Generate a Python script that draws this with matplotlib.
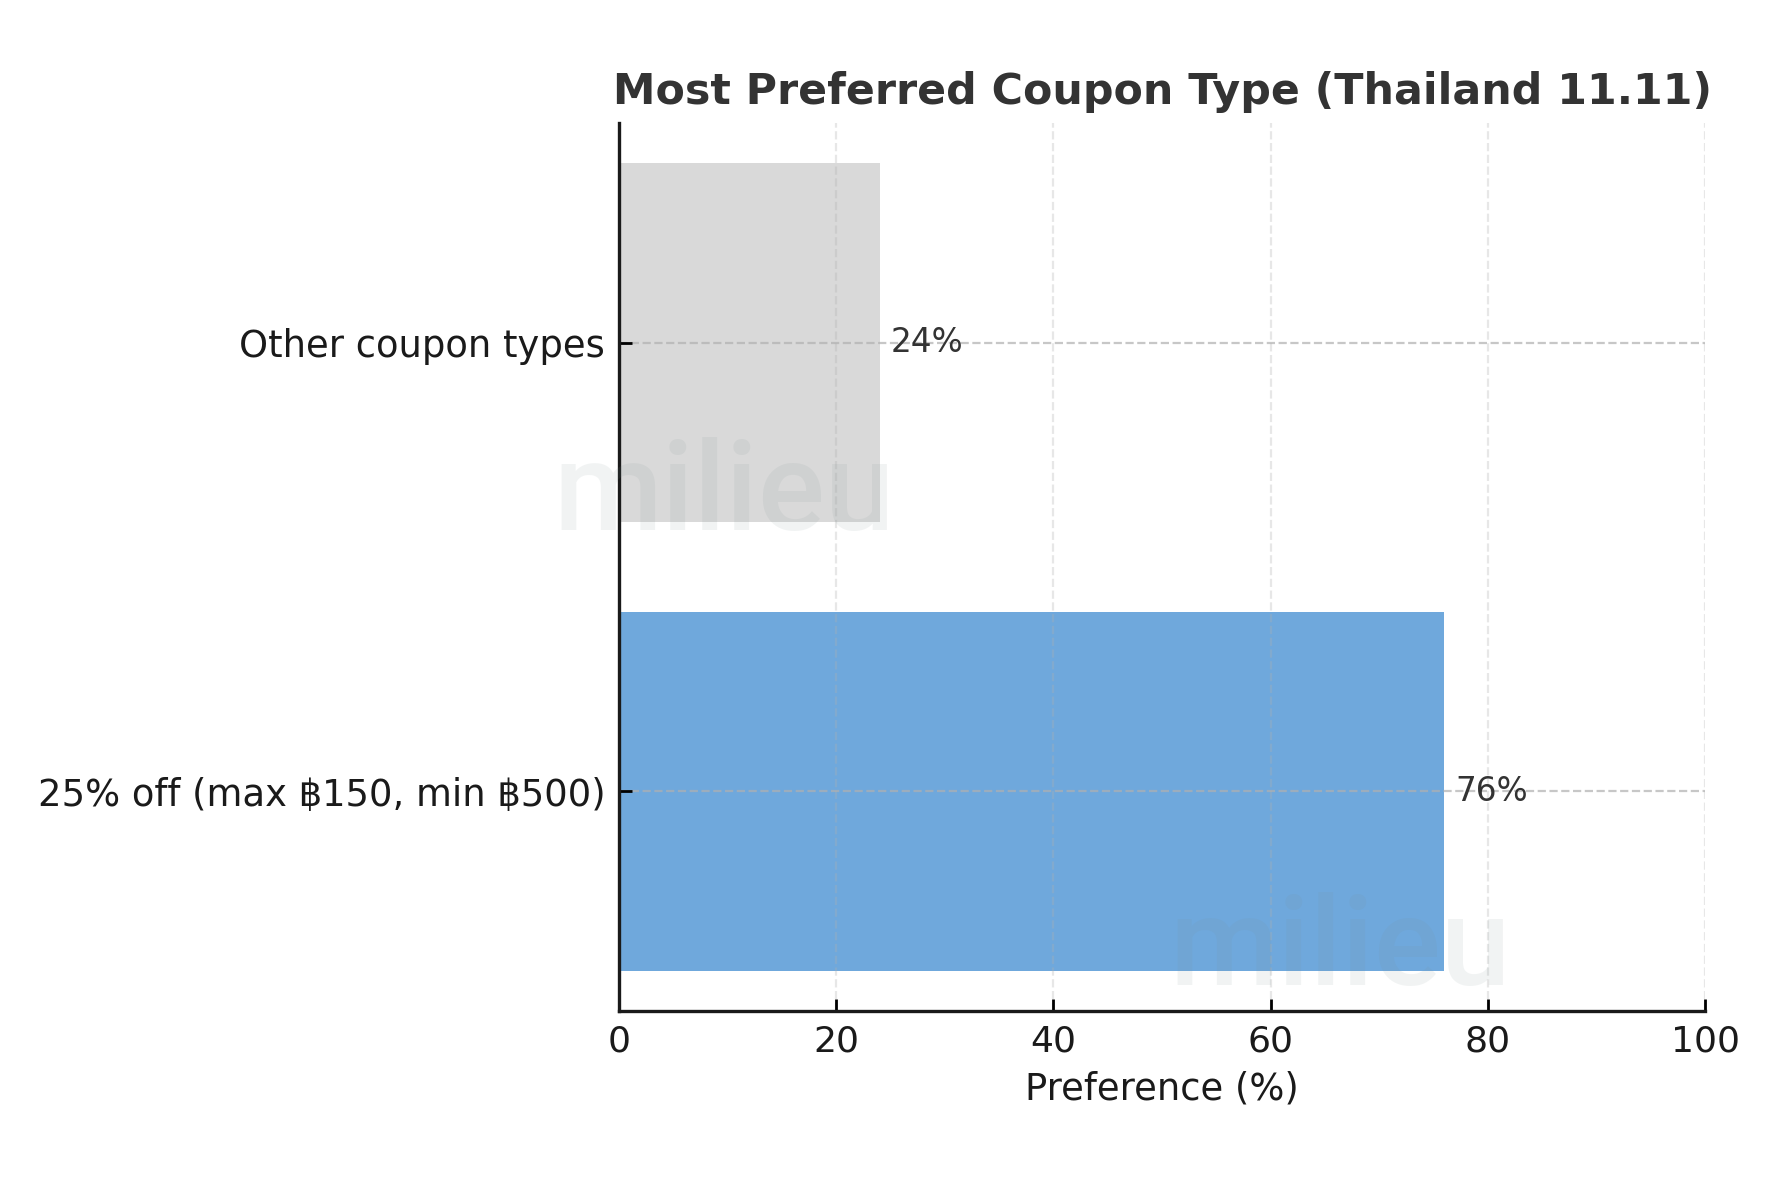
import matplotlib
matplotlib.use("Agg")
import matplotlib.pyplot as plt

categories = ["25% off (max ฿150, min ฿500)", "Other coupon types"]
values = [76, 24]
bar_colors = ["#6fa8dc", "#d9d9d9"]
value_labels = ["76%", "24%"]
xticks = [0, 20, 40, 60, 80, 100]

plt.rcParams['font.family'] = ['DejaVu Sans']

fig = plt.figure(figsize=(8.9, 5.9), dpi=200)
ax = fig.add_axes([0.3478, 0.1432, 0.6101, 0.7526])

ax.barh(categories, values, color=bar_colors, height=0.8)
for i, (v, lab) in enumerate(zip(values, value_labels)):
    ax.text(v + 1, i, lab, va='center', ha='left', fontsize=11.8, color='#333333')

ax.set_xlim(0, 100)
ax.set_xticks(xticks)
ax.set_xlabel("Preference (%)", fontsize=13.3, color='#1a1a1a', labelpad=4)
ax.set_title("Most Preferred Coupon Type (Thailand 11.11)", fontsize=15.4,
             fontweight='bold', color='#333333', pad=7)

ax.tick_params(axis='both', direction='in', length=4.5, width=1.0,
               labelsize=13.3, labelcolor='#1a1a1a', pad=5)
ax.tick_params(axis='x', labelsize=13)

for s in ['top', 'right']:
    ax.spines[s].set_visible(False)
for s in ['left', 'bottom']:
    ax.spines[s].set_linewidth(1.2)
    ax.spines[s].set_color('#1a1a1a')

ax.xaxis.grid(True, linestyle='--', alpha=0.3, linewidth=0.8)
ax.yaxis.grid(True, linestyle='--', alpha=0.7, linewidth=0.8)

# watermark
for (x, y) in [(0.407, 0.551), (0.753, 0.165)]:
    fig.text(x, y, "milieu", fontsize=45, fontweight='medium', family='Roboto',
             color='#7a9090', alpha=0.10, ha='center', va='baseline')

fig.savefig("out.png", dpi=200)
